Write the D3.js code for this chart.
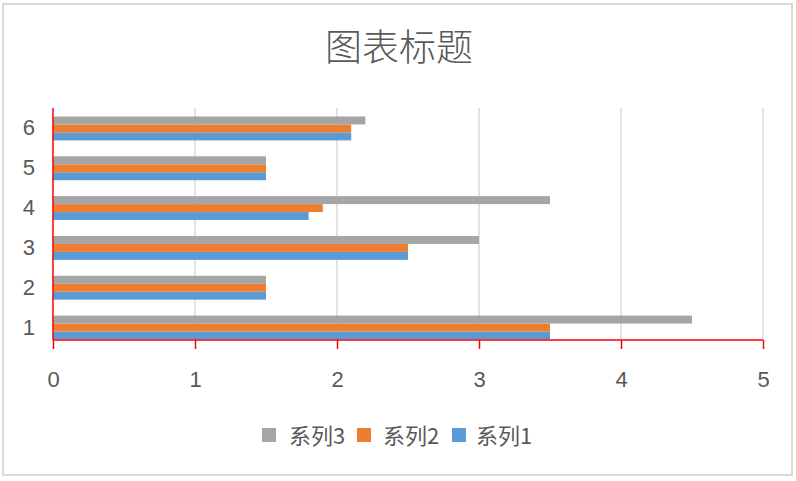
<!DOCTYPE html>
<html><head><meta charset="utf-8">
<script src="https://cdn.jsdelivr.net/npm/d3@7"></script>
<style>body{margin:0;background:#fff}svg{display:block}</style>
</head><body>
<script>
const categories = ["1","2","3","4","5","6"];
const seriesNames = ["系列1","系列2","系列3"];
const series1 = [3.5,1.5,2.5,1.8,1.5,2.1];
const series2 = [3.5,1.5,2.5,1.9,1.5,2.1];
const series3 = [4.5,1.5,3,3.5,1.5,2.2];
const xTicks = [0,1,2,3,4,5];
const colors = ["#5b9bd5","#ed7d31","#a5a5a5"];
const title = "图表标题";

(function(){
const W=796,H=481;
const svg=d3.select("body").append("svg").attr("width",W).attr("height",H);
svg.append("rect").attr("x",3).attr("y",4).attr("width",789).attr("height",471)
  .attr("fill","#fff").attr("stroke","#d9d9d9").attr("stroke-width",2);

const pL=53,pR=763,pT=108,pB=340;
const x=d3.scaleLinear().domain([0,5]).range([pL,pR]);
const y=d3.scaleBand().domain(categories).range([339.5,116.5]).paddingInner(0.4).paddingOuter(0);
const sub=d3.scaleBand().domain([2,1,0]).range([0,y.bandwidth()]);

const fontF="'Noto Sans CJK SC','Liberation Sans',sans-serif";
svg.append("text").attr("x",399).attr("y",61).attr("text-anchor","middle")
  .attr("font-family",fontF).attr("font-size",37).attr("font-weight",300).attr("fill","#595959").text(title);

svg.append("g").selectAll("line").data(xTicks.slice(1)).join("line")
  .attr("x1",d=>x(d)).attr("x2",d=>x(d)).attr("y1",pT).attr("y2",pB)
  .attr("stroke","#d9d9d9").attr("stroke-width",1.5);

const data=[series1,series2,series3];
data.forEach((s,si)=>{
  svg.append("g").selectAll("rect").data(s).join("rect")
    .attr("x",x(0)).attr("y",(d,i)=>y(categories[i])+sub(si))
    .attr("width",d=>x(d)-x(0)).attr("height",sub.bandwidth())
    .attr("fill",colors[si]);
});

const xa=svg.append("g").attr("transform",`translate(0,${pB})`)
  .call(d3.axisBottom(x).tickValues(xTicks).tickSize(9).tickPadding(22).tickFormat(d3.format("d")));
xa.select(".domain").attr("stroke","#ff0000").attr("stroke-width",1.5).attr("d",`M${pL},0H${pR}`);
xa.selectAll(".tick line").attr("stroke","#ff0000").attr("stroke-width",1.5);
xa.selectAll(".tick text").attr("font-family","'Liberation Sans',sans-serif").attr("font-size",22).attr("fill","#595959");

const ya=svg.append("g").attr("transform",`translate(${pL},0)`)
  .call(d3.axisLeft(y).tickSize(0).tickPadding(18));
ya.select(".domain").attr("stroke","#ff0000").attr("stroke-width",1.5).attr("d",`M0,${pT}V${pB}`);
ya.selectAll(".tick text").attr("font-family","'Liberation Sans',sans-serif").attr("font-size",22).attr("fill","#595959");

const legendItems=[{n:seriesNames[2],c:colors[2],x:262,tx:289},{n:seriesNames[1],c:colors[1],x:357,tx:383},{n:seriesNames[0],c:colors[0],x:452,tx:476}];
const lg=svg.append("g");
legendItems.forEach(it=>{
  lg.append("rect").attr("x",it.x).attr("y",428).attr("width",14).attr("height",14).attr("fill",it.c);
  lg.append("text").attr("x",it.tx).attr("y",444).attr("font-family",fontF).attr("font-size",22)
    .attr("fill","#595959").text(it.n);
});
})();
</script>
</body></html>
